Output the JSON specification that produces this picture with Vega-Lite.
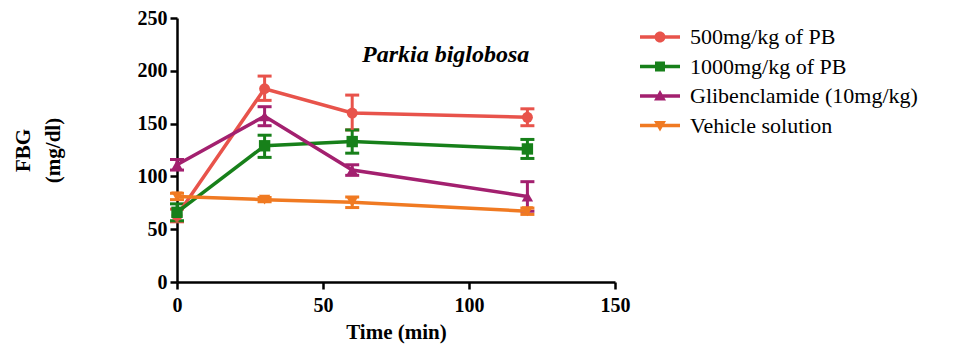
{
  "$schema": "https://vega.github.io/schema/vega-lite/v6.json",
  "width": 438,
  "height": 264,
  "autosize": {"type": "none"},
  "padding": {"left": 177, "top": 18, "right": 339, "bottom": 65},
  "background": "white",
  "config": {
    "view": {"stroke": null},
    "font": "Liberation Serif",
    "axis": {
      "grid": false,
      "domainColor": "black",
      "domainWidth": 2.5,
      "tickColor": "black",
      "tickWidth": 2.5,
      "tickSize": 7,
      "labelFlush": false,
      "labelFont": "Liberation Serif",
      "labelFontWeight": "bold",
      "labelFontSize": 20,
      "labelColor": "black",
      "titleFont": "Liberation Serif",
      "titleFontWeight": "bold",
      "titleFontSize": 21,
      "titleColor": "black"
    }
  },
  "data": {
    "values": [
      {"Group": "500mg/kg of PB", "Time": 0, "FBG": 63, "lo": 57, "hi": 69},
      {"Group": "500mg/kg of PB", "Time": 30, "FBG": 183, "lo": 172, "hi": 195},
      {"Group": "500mg/kg of PB", "Time": 60, "FBG": 160, "lo": 144, "hi": 177},
      {"Group": "500mg/kg of PB", "Time": 120, "FBG": 156, "lo": 148, "hi": 164},
      {"Group": "1000mg/kg of PB", "Time": 0, "FBG": 66, "lo": 58, "hi": 74},
      {"Group": "1000mg/kg of PB", "Time": 30, "FBG": 129, "lo": 118, "hi": 139},
      {"Group": "1000mg/kg of PB", "Time": 60, "FBG": 133, "lo": 122, "hi": 144},
      {"Group": "1000mg/kg of PB", "Time": 120, "FBG": 126, "lo": 117, "hi": 135},
      {"Group": "Glibenclamide (10mg/kg)", "Time": 0, "FBG": 111, "lo": 106, "hi": 116},
      {"Group": "Glibenclamide (10mg/kg)", "Time": 30, "FBG": 157, "lo": 148, "hi": 166},
      {"Group": "Glibenclamide (10mg/kg)", "Time": 60, "FBG": 106, "lo": 101, "hi": 111},
      {"Group": "Glibenclamide (10mg/kg)", "Time": 120, "FBG": 81, "lo": 67, "hi": 95},
      {"Group": "Vehicle solution", "Time": 0, "FBG": 81, "lo": 78, "hi": 84},
      {"Group": "Vehicle solution", "Time": 30, "FBG": 78, "lo": 76, "hi": 80},
      {"Group": "Vehicle solution", "Time": 60, "FBG": 75.5, "lo": 70.5, "hi": 80.5},
      {"Group": "Vehicle solution", "Time": 120, "FBG": 67, "lo": 64, "hi": 70}
    ]
  },
  "layer": [
    {
      "mark": {"type": "errorbar", "ticks": {"size": 14, "thickness": 3, "opacity": 1}, "rule": {"strokeWidth": 3, "opacity": 1}},
      "encoding": {
        "x": {"field": "Time", "type": "quantitative", "scale": {"domain": [0, 150], "nice": false, "zero": false}, "axis": {"values": [0, 50, 100, 150], "title": "Time (min)", "labelPadding": 6, "titlePadding": 6}},
        "y": {"field": "lo", "type": "quantitative", "scale": {"domain": [0, 250], "nice": false}, "axis": {"values": [0, 50, 100, 150, 200, 250], "title": ["FBG", "(mg/dl)"], "titlePadding": 74, "titleLineHeight": 30, "labelPadding": 3}},
        "y2": {"field": "hi"},
        "color": {"field": "Group", "type": "nominal"}
      }
    },
    {
      "mark": {"type": "line", "strokeWidth": 3.5},
      "encoding": {
        "x": {"field": "Time", "type": "quantitative"},
        "y": {"field": "FBG", "type": "quantitative"},
        "color": {
          "field": "Group", "type": "nominal",
          "scale": {"domain": ["500mg/kg of PB", "1000mg/kg of PB", "Glibenclamide (10mg/kg)", "Vehicle solution"], "range": ["#E8534B", "#17801A", "#A3206F", "#F07A22"]}
        }
      }
    },
    {
      "transform": [{"filter": "datum.Group == '500mg/kg of PB'"}],
      "mark": {"type": "point", "filled": true, "opacity": 1, "size": 120, "shape": "circle"},
      "encoding": {
        "x": {"field": "Time", "type": "quantitative"},
        "y": {"field": "FBG", "type": "quantitative"},
        "color": {"field": "Group", "type": "nominal"}
      }
    },
    {
      "transform": [{"filter": "datum.Group == '1000mg/kg of PB'"}],
      "mark": {"type": "point", "filled": true, "opacity": 1, "size": 130, "shape": "square"},
      "encoding": {
        "x": {"field": "Time", "type": "quantitative"},
        "y": {"field": "FBG", "type": "quantitative"},
        "color": {"field": "Group", "type": "nominal"}
      }
    },
    {
      "transform": [{"filter": "datum.Group == 'Glibenclamide (10mg/kg)'"}],
      "mark": {"type": "point", "filled": true, "opacity": 1, "size": 130, "shape": "triangle-up"},
      "encoding": {
        "x": {"field": "Time", "type": "quantitative"},
        "y": {"field": "FBG", "type": "quantitative"},
        "color": {"field": "Group", "type": "nominal"}
      }
    },
    {
      "transform": [{"filter": "datum.Group == 'Vehicle solution'"}],
      "mark": {"type": "point", "filled": true, "opacity": 1, "size": 130, "shape": "triangle-down"},
      "encoding": {
        "x": {"field": "Time", "type": "quantitative"},
        "y": {"field": "FBG", "type": "quantitative"},
        "color": {"field": "Group", "type": "nominal"}
      }
    },
    {
      "transform": [{"filter": "datum.Time < 0"}],
      "mark": {"type": "point", "filled": true, "opacity": 1},
      "encoding": {
        "x": {"field": "Time", "type": "quantitative"},
        "y": {"field": "FBG", "type": "quantitative"},
        "color": {
          "field": "Group", "type": "nominal",
          "legend": {
            "orient": "none", "legendX": 472, "legendY": 8, "title": null,
            "symbolOpacity": 1, "symbolSize": 400, "symbolStrokeWidth": 0,
            "labelFont": "Liberation Serif", "labelFontSize": 22, "labelColor": "black", "labelLimit": 300,
            "rowPadding": 7.5, "labelOffset": 19, "symbolOffset": 0,
            "encode": {"symbols": {"update": {"opacity": {"value": 1}}}}
          }
        },
        "shape": {
          "field": "Group", "type": "nominal",
          "scale": {"domain": ["500mg/kg of PB", "1000mg/kg of PB", "Glibenclamide (10mg/kg)", "Vehicle solution"], "range": [
            "M-2,-0.17L2,-0.17L2,0.17L-2,0.17Z M0.55,0A0.55,0.55 0 1,1 -0.55,0A0.55,0.55 0 1,1 0.55,0Z",
            "M-2,-0.17L2,-0.17L2,0.17L-2,0.17Z M-0.5,-0.5L0.5,-0.5L0.5,0.5L-0.5,0.5Z",
            "M-2,-0.17L2,-0.17L2,0.17L-2,0.17Z M0,-0.6L0.6,0.45L-0.6,0.45Z",
            "M-2,-0.17L2,-0.17L2,0.17L-2,0.17Z M0,0.6L-0.6,-0.45L0.6,-0.45Z"
          ]},
          "legend": {
            "orient": "none", "legendX": 472, "legendY": 8, "title": null,
            "symbolOpacity": 1, "symbolSize": 400, "symbolStrokeWidth": 0,
            "labelFont": "Liberation Serif", "labelFontSize": 22, "labelColor": "black", "labelLimit": 300,
            "rowPadding": 7.5, "labelOffset": 19, "symbolOffset": 0,
            "encode": {"symbols": {"update": {"opacity": {"value": 1}}}}
          }
        }
      }
    },
    {
      "transform": [{"filter": "datum.Group == 'Vehicle solution' && datum.Time == 0"}],
      "mark": {"type": "text", "font": "Liberation Serif", "fontStyle": "italic", "fontWeight": "bold", "fontSize": 24, "color": "black"},
      "encoding": {
        "x": {"datum": 92, "type": "quantitative"},
        "y": {"datum": 215, "type": "quantitative"},
        "text": {"value": "Parkia biglobosa"}
      }
    }
  ]
}
